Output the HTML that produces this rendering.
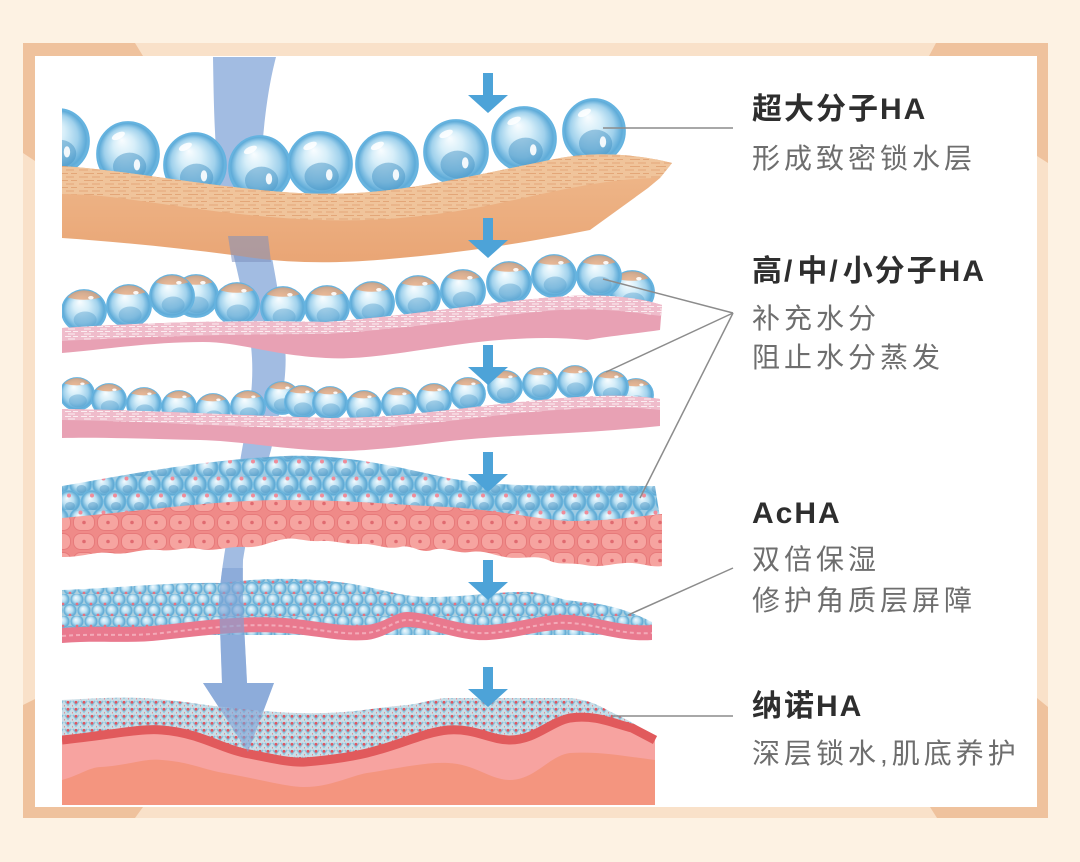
<!DOCTYPE html>
<html><head><meta charset="utf-8">
<style>
html,body{margin:0;padding:0;}
body{width:1080px;height:862px;position:relative;overflow:hidden;background:#fdf2e3;font-family:"Liberation Sans","Noto Sans CJK SC",sans-serif;}
svg{position:absolute;left:0;top:0;}
.t{position:absolute;left:752px;font-size:30px;line-height:30px;font-weight:bold;color:#2e2e2e;letter-spacing:2px;white-space:nowrap;}
.s{position:absolute;left:752px;font-size:28px;line-height:28px;color:#6e6e6e;letter-spacing:4px;white-space:nowrap;}
.sl{letter-spacing:5px;}
</style></head><body>
<svg width="1080" height="862" viewBox="0 0 1080 862">
<defs>
<radialGradient id="gb" cx=".5" cy=".5" r=".5" fx=".4" fy=".28">
<stop offset="0" stop-color="#f9fdff"/><stop offset=".35" stop-color="#d6eef9"/><stop offset=".7" stop-color="#a0d1ec"/><stop offset=".92" stop-color="#5eabd8"/><stop offset="1" stop-color="#72bae2"/>
</radialGradient>
<radialGradient id="gs" cx=".5" cy=".5" r=".5" fx=".4" fy=".35">
<stop offset="0" stop-color="#f2fafe"/><stop offset=".5" stop-color="#b8dff2"/><stop offset=".85" stop-color="#6cb2d8"/><stop offset="1" stop-color="#5aa3d0"/>
</radialGradient>
<linearGradient id="tanG" x1="0" y1="0" x2="0" y2="1">
<stop offset="0" stop-color="#efb98c"/><stop offset="1" stop-color="#e9a575"/>
</linearGradient>
<symbol id="B" viewBox="-1 -1 2 2" preserveAspectRatio="none" overflow="visible">
<circle r=".97" fill="url(#gb)" stroke="#64b3e0" stroke-width=".05"/>
<ellipse cx=".05" cy=".38" rx=".52" ry=".42" fill="#3f8dc0" opacity=".45"/>
<ellipse cx=".28" cy=".33" rx=".1" ry=".17" fill="#fff" opacity=".9"/>
<ellipse cx="-.3" cy="-.55" rx=".22" ry=".1" fill="#fff" opacity=".85" transform="rotate(-25 -.3 -.55)"/>
</symbol>
<symbol id="B2" viewBox="-1 -1 2 2" preserveAspectRatio="none" overflow="visible">
<circle r=".97" fill="url(#gb)" stroke="#64b3e0" stroke-width=".05"/>
<path d="M-.72,-.62 A.97,.97 0 0 1 .72,-.62 Q0,-.4 -.72,-.62Z" fill="#e8a273" opacity=".75"/>
<ellipse cx=".05" cy=".4" rx=".5" ry=".38" fill="#4f9bcb" opacity=".4"/>
<ellipse cx=".3" cy="-.6" rx=".12" ry=".08" fill="#fff" opacity=".9"/>
</symbol>
<pattern id="tan" width="26" height="7" patternUnits="userSpaceOnUse">
<rect width="26" height="7" fill="#f0c49b"/>
<path d="M1 2h9M14 2h8M6 5.5h10M19 5.5h6" stroke="#e3a678" stroke-width="1"/>
</pattern>
<pattern id="pk" width="16" height="5" patternUnits="userSpaceOnUse">
<rect width="16" height="5" fill="#efbccb"/>
<path d="M1 1.5h6M9 1.5h5M4 4h7" stroke="#fff" stroke-width="1" opacity=".75"/>
</pattern>
<pattern id="cell" width="24" height="19" patternUnits="userSpaceOnUse">
<rect width="24" height="19" fill="#ef8a88"/>
<rect x="1.5" y="1.5" width="21" height="16" rx="7" fill="#f6a4a0" stroke="#e77a7b" stroke-width="1"/>
<circle cx="12" cy="9.5" r="1.8" fill="#e06a70"/>
</pattern>
<pattern id="b4" width="23" height="34" patternUnits="userSpaceOnUse">
<rect width="23" height="34" fill="#9fcbe3"/>
<circle cx="11.5" cy="8.5" r="11" fill="url(#gs)" stroke="#6ab8e0" stroke-width=".8"/>
<circle cx="0" cy="25.5" r="11" fill="url(#gs)" stroke="#6ab8e0" stroke-width=".8"/>
<circle cx="23" cy="25.5" r="11" fill="url(#gs)" stroke="#6ab8e0" stroke-width=".8"/>
<ellipse cx="12.5" cy="13" rx="5" ry="4" fill="#4b93c2" opacity=".45"/>
<ellipse cx="1" cy="30" rx="5" ry="4" fill="#4b93c2" opacity=".45"/>
<ellipse cx="24" cy="30" rx="5" ry="4" fill="#4b93c2" opacity=".45"/>
<circle cx="11.5" cy="2.5" r="2" fill="#ef8c9a"/>
<circle cx="0" cy="19.5" r="2" fill="#ef8c9a"/>
<circle cx="23" cy="19.5" r="2" fill="#ef8c9a"/>
</pattern>
<pattern id="b5" width="14" height="22" patternUnits="userSpaceOnUse">
<rect width="14" height="22" fill="#b0cfdd"/>
<circle cx="7" cy="5.5" r="6.5" fill="url(#gs)" stroke="#7dbfe0" stroke-width=".6"/>
<circle cx="0" cy="16.5" r="6.5" fill="url(#gs)" stroke="#7dbfe0" stroke-width=".6"/>
<circle cx="14" cy="16.5" r="6.5" fill="url(#gs)" stroke="#7dbfe0" stroke-width=".6"/>
<circle cx="7" cy="10" r="1.4" fill="#e8707f"/>
<circle cx="0" cy="21" r="1.4" fill="#e8707f"/>
<circle cx="14" cy="21" r="1.4" fill="#e8707f"/>
</pattern>
<pattern id="nano" width="8" height="7" patternUnits="userSpaceOnUse">
<rect width="8" height="7" fill="#cadde6"/>
<path d="M1,1 L4,5 L7,1" stroke="#8cc2da" stroke-width="1.6" fill="none"/>
<circle cx="4" cy="2.3" r="1.4" fill="#e0555f"/>
<circle cx="0" cy="5.8" r="0.9" fill="#e47a84"/>
</pattern>
<clipPath id="ill"><rect x="62" y="57" width="620" height="750"/></clipPath>
<clipPath id="low"><rect x="150" y="568" width="200" height="200"/></clipPath>
</defs>

<!-- frame -->
<rect x="23" y="43" width="1025" height="775" fill="#f9e1c9"/>
<polygon points="23,43 135,43 143,56 35,56 35,161 23,153" fill="#efc29d"/>
<polygon points="936,43 1048,43 1048,163 1037,156 1037,56 929,56" fill="#efc29d"/>
<polygon points="23,705 35,699 35,807 143,807 135,818 23,818" fill="#efc29d"/>
<polygon points="1037,698 1048,707 1048,818 937,818 930,807 1037,807" fill="#efc29d"/>
<rect x="35" y="56" width="1002" height="751" fill="#fff"/>

<g clip-path="url(#ill)">
<!-- big arrow (under) -->
<path d="M213,57 C214,120 215,175 226,222 C236,268 250,318 252,358 C254,398 245,430 240,462 C234,505 222,555 219,600 L222,683 L203,683 L248,752 L274,683 L247,683 C245,640 242,600 243,560 C249,520 262,482 271,450 C280,412 288,378 285,345 C282,308 274,270 268,235 C262,200 261,160 263,138 C266,105 270,80 276,57 Z" fill="#a2bce2"/>

<!-- layer 1 bubbles -->
<use href="#B" x="26" y="108" width="64" height="66"/>
<use href="#B" x="96" y="121" width="64" height="66"/>
<use href="#B" x="163" y="132" width="64" height="66"/>
<use href="#B" x="228" y="135" width="64" height="66"/>
<use href="#B" x="287" y="131" width="66" height="66"/>
<use href="#B" x="355" y="131" width="64" height="66"/>
<use href="#B" x="423" y="119" width="66" height="66"/>
<use href="#B" x="491" y="106" width="66" height="66"/>
<use href="#B" x="562" y="98" width="64" height="66"/>
<!-- tan layer -->
<path d="M62,166 C120,170 190,183 260,190 C300,194 340,196 390,190 C440,184 500,170 560,158 C600,151 640,155 672,163 L660,178 L648,188 L590,230 C540,240 470,252 400,258 C340,264 290,264 240,256 C180,248 120,242 62,238 Z" fill="url(#tanG)"/>
<path d="M62,166 C120,170 190,183 260,190 C300,194 340,196 390,190 C440,184 500,170 560,158 C600,151 640,155 672,163 L660,178 C610,178 560,190 500,203 C440,216 380,222 320,220 C250,218 180,206 120,198 C95,195 75,194 62,194 Z" fill="url(#tan)"/>
<!-- arrow tint over tan bottom -->
<path d="M228,236 L268,236 L271,262 L232,262 Z" fill="#7d8fbd" opacity=".55"/>

<!-- layer 2 bubbles -->
<use href="#B2" x="61" y="289" width="46" height="44"/>
<use href="#B2" x="106" y="284" width="46" height="44"/>
<use href="#B2" x="173" y="274" width="46" height="44"/>
<use href="#B2" x="149" y="274" width="46" height="44"/>
<use href="#B2" x="214" y="282" width="46" height="44"/>
<use href="#B2" x="260" y="286" width="46" height="44"/>
<use href="#B2" x="304" y="285" width="46" height="44"/>
<use href="#B2" x="349" y="281" width="46" height="44"/>
<use href="#B2" x="395" y="275" width="46" height="44"/>
<use href="#B2" x="440" y="269" width="46" height="44"/>
<use href="#B2" x="486" y="261" width="46" height="44"/>
<use href="#B2" x="609" y="270" width="46" height="44"/>
<use href="#B2" x="531" y="254" width="46" height="44"/>
<use href="#B2" x="576" y="254" width="46" height="44"/>
<!-- layer 2 band -->
<path d="M62,328 C150,322 250,320 326,322 C420,315 500,300 570,296 C610,294 640,298 662,305 L660,330 C640,333 610,336 587,340 C540,335 490,340 448,346 C400,353 360,360 326,358 C270,355 240,342 203,342 C150,342 100,350 62,353 Z" fill="#e8a1b4"/>
<path d="M62,328 C150,322 250,320 326,322 C420,315 500,300 570,296 C610,294 640,298 662,305 L661,316 C620,310 590,308 560,310 C500,314 420,328 326,334 C250,334 150,336 62,341 Z" fill="url(#pk)"/>

<!-- layer 3 bubbles -->
<use href="#B2" x="59" y="377" width="36" height="34"/>
<use href="#B2" x="91" y="383" width="36" height="34"/>
<use href="#B2" x="126" y="387" width="36" height="34"/>
<use href="#B2" x="161" y="390" width="36" height="34"/>
<use href="#B2" x="195" y="393" width="36" height="34"/>
<use href="#B2" x="230" y="390" width="36" height="34"/>
<use href="#B2" x="264" y="381" width="36" height="34"/>
<use href="#B2" x="284" y="385" width="36" height="34"/>
<use href="#B2" x="312" y="386" width="36" height="34"/>
<use href="#B2" x="346" y="390" width="36" height="34"/>
<use href="#B2" x="381" y="387" width="36" height="34"/>
<use href="#B2" x="416" y="383" width="36" height="34"/>
<use href="#B2" x="450" y="377" width="36" height="34"/>
<use href="#B2" x="487" y="370" width="36" height="34"/>
<use href="#B2" x="522" y="367" width="36" height="34"/>
<use href="#B2" x="618" y="378" width="36" height="34"/>
<use href="#B2" x="557" y="365" width="36" height="34"/>
<use href="#B2" x="593" y="370" width="36" height="34"/>
<!-- layer 3 band -->
<path d="M62,409 C150,410 250,416 330,418 C400,418 460,408 520,402 C580,396 620,393 660,399 L660,426 C620,430 590,432 550,434 C510,436 480,438 450,441 C400,447 360,452 330,451 C280,449 240,441 200,440 C150,439 100,437 62,438 Z" fill="#e8a1b4"/>
<path d="M62,409 C150,410 250,416 330,418 C400,418 460,408 520,402 C580,396 620,393 660,399 L660,410 C620,405 580,408 520,413 C460,419 400,429 330,429 C250,428 150,421 62,420 Z" fill="url(#pk)"/>

<!-- layer 4 -->
<path d="M62,486 C120,476 200,460 285,456 C350,454 400,468 448,478 C500,488 560,485 655,486 L662,530 L62,530 Z" fill="url(#b4)"/>
<path d="M62,518 C150,510 220,500 285,500 C350,500 400,505 448,507 C500,510 540,520 570,521 C610,521 640,516 662,514 L662,566 C650,568 640,562 625,563 C610,564 600,568 585,565 C570,562 560,566 548,560 C535,554 520,560 505,557 C492,555 485,550 470,552 C455,554 445,546 432,550 C420,554 412,544 400,547 C385,550 375,543 360,544 C345,545 335,540 320,541 C305,542 295,537 285,539 C270,541 262,548 245,547 C228,546 215,552 200,549 C185,546 175,552 160,550 C140,548 128,556 110,553 C95,551 85,557 62,557 Z" fill="url(#cell)"/>

<!-- layer 5 -->
<path d="M62,590 C120,588 170,582 220,583 C260,578 300,577 346,583 C380,588 400,597 430,597 C470,597 500,591 530,592 C550,594 560,600 575,601 C600,603 625,608 652,622 L652,635 L62,635 Z" fill="url(#b5)"/>
<path d="M62,643 C100,640 130,644 162,640 C200,636 240,630 285,633 C320,636 340,642 367,640 C385,638 395,627 407,627 C430,627 460,642 489,640 C520,638 545,628 570,630 C600,632 620,642 652,640 L652,625 C620,627 600,617 570,615 C545,613 520,623 489,625 C460,627 430,612 407,612 C395,612 385,623 367,625 C340,627 320,621 285,618 C240,615 200,621 162,625 C130,629 100,625 62,628 Z" fill="#e9798e"/>
<path d="M62,636 C100,633 130,637 162,633 C200,629 240,623 285,626 C320,629 340,635 367,633 C385,631 395,620 407,620 C430,620 460,635 489,633 C520,631 545,621 570,623 C600,625 620,635 652,633" fill="none" stroke="#f3aab8" stroke-width="2" stroke-dasharray="4 3"/>

<!-- layer 6 -->
<path d="M62,700 C100,698 120,697 142,698 C180,700 200,705 224,707 C260,711 290,714 326,713 C360,712 380,707 407,705 C425,703 435,698 448,698 L570,698 C590,700 600,706 611,712 C625,718 640,727 655,737 L655,805 L62,805 Z" fill="url(#nano)"/>
<path d="M62,740 C110,735 140,728 162,730 C200,733 220,748 244,753 C270,758 290,763 305,762 C330,760 350,757 367,753 C400,745 425,732 448,730 C475,728 490,740 510,740 C535,740 550,722 570,718 C595,714 615,724 632,728 L655,740 L655,805 L62,805 Z" fill="#f7a3a0"/>
<path d="M62,740 C110,735 140,728 162,730 C200,733 220,748 244,753 C270,758 290,763 305,762 C330,760 350,757 367,753 C400,745 425,732 448,730 C475,728 490,740 510,740 C535,740 550,722 570,718 C595,714 615,724 632,728 L655,740" fill="none" stroke="#e15a5c" stroke-width="9"/>
<path d="M62,780 C80,775 90,767 101,767 C130,765 145,758 162,760 C190,762 205,770 224,773 C260,779 285,787 305,787 C330,787 350,776 367,773 C400,768 425,762 448,763 C475,764 490,780 510,780 C535,780 550,755 570,753 C600,751 630,757 655,760 L655,805 L62,805 Z" fill="#f4957f"/>

<!-- big arrow overlay (lower part) -->
<path clip-path="url(#low)" d="M213,57 C214,120 215,175 226,222 C236,268 250,318 252,358 C254,398 245,430 240,462 C234,505 222,555 219,600 L222,683 L203,683 L248,752 L274,683 L247,683 C245,640 242,600 243,560 C249,520 262,482 271,450 C280,412 288,378 285,345 C282,308 274,270 268,235 C262,200 261,160 263,138 C266,105 270,80 276,57 Z" fill="#7fa2d6" opacity=".6"/>
</g>

<!-- small arrows -->
<g fill="#4da3d8">
<path d="M483,73 h10 v22 h15 l-20,18 l-20,-18 h15 Z"/>
<path d="M483,218 h10 v22 h15 l-20,18 l-20,-18 h15 Z"/>
<path d="M483,345 h10 v22 h15 l-20,18 l-20,-18 h15 Z"/>
<path d="M483,452 h10 v22 h15 l-20,18 l-20,-18 h15 Z"/>
<path d="M483,560 h10 v22 h15 l-20,18 l-20,-18 h15 Z"/>
<path d="M483,667 h10 v22 h15 l-20,18 l-20,-18 h15 Z"/>
</g>

<!-- leader lines -->
<g stroke="#8c8c8c" stroke-width="1.5" fill="none">
<line x1="603" y1="128" x2="733" y2="128"/>
<line x1="733" y1="313" x2="603" y2="279"/>
<line x1="733" y1="313" x2="606" y2="372"/>
<line x1="733" y1="313" x2="640" y2="498"/>
<line x1="733" y1="568" x2="628" y2="615"/>
<line x1="612" y1="716" x2="733" y2="716"/>
</g>
</svg>

<div class="t" style="top:95px">超大分子HA</div>
<div class="s" style="top:145px">形成致密锁水层</div>
<div class="t" style="top:257px">高<span class="sl">/</span>中<span class="sl">/</span>小分子HA</div>
<div class="s" style="top:305px">补充水分</div>
<div class="s" style="top:344px">阻止水分蒸发</div>
<div class="t" style="top:499px">AcHA</div>
<div class="s" style="top:546px">双倍保湿</div>
<div class="s" style="top:587px">修护角质层屏障</div>
<div class="t" style="top:692px">纳诺HA</div>
<div class="s" style="top:740px">深层锁水,肌底养护</div>
</body></html>
